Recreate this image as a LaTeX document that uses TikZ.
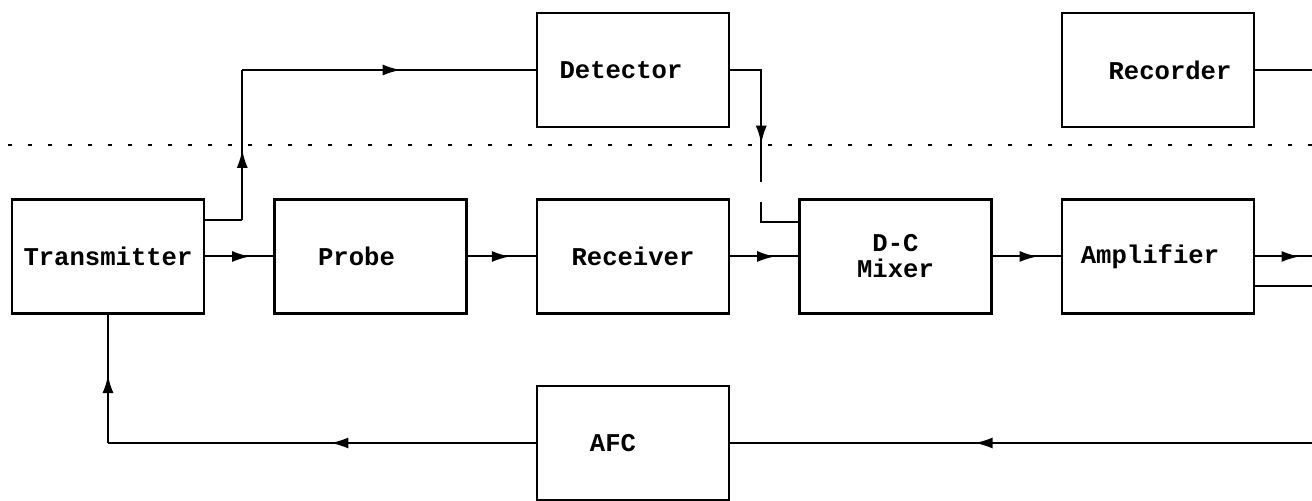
\documentclass[tikz,border=0pt]{standalone}
\usepackage{fontspec}
\setmonofont{Liberation Mono}
\usepackage{tikz}
\usetikzlibrary{arrows.meta,positioning,decorations.markings}

\begin{document}
\begin{tikzpicture}[
  node distance=35pt and 34pt,
  box/.style={draw,line width=1.25pt,minimum width=96pt,minimum height=57pt,
              inner sep=2pt,align=center,
              font=\ttfamily\bfseries\fontsize{12.8}{13}\selectfont},
  wire/.style={line width=1pt},
  flow/.style={postaction={decorate},decoration={markings,
               mark=at position #1 with {\arrow{Latex[length=9pt,width=5.5pt]}}}},
  sep/.style={line width=1.1pt,dash pattern=on 2pt off 8pt}
]
  \useasboundingbox (-54pt,-122.25pt) rectangle (602pt,128.25pt);

  \node[box] (tx) {Transmitter};
  \node[box,right=of tx] (probe) {Probe\hspace*{14pt}};
  \node[box,right=of probe] (rcv) {Receiver};
  \node[box,right=of rcv] (mix) {D-C\\Mixer};
  \node[box,right=of mix] (amp) {Amplifier\hspace*{8pt}};
  \node[box,above=of rcv] (det) {Detector\hspace*{12pt}};
  \node[box,above=of amp] (rec) {\hspace*{12pt}Recorder};
  \node[box,below=of rcv] (afc) {AFC\hspace*{20pt}};

  \coordinate (edge) at (602pt,0);
  \coordinate (sepL) at (-50pt,55.75pt);
  \coordinate (sepR) at (edge |- sepL);
  \draw[sep] (sepL) -- (sepR);

  \draw[wire,flow=0.66] (tx) -- (probe);
  \draw[wire,flow=0.62] (probe) -- (rcv);
  \draw[wire,flow=0.66] (rcv) -- (mix);
  \draw[wire,flow=0.66] (mix) -- (amp);

  \coordinate (txup) at ([yshift=18pt]tx.east);
  \path (txup) ++(18.5pt,0) coordinate (riseA);
  \coordinate (riseB) at (riseA |- det.west);
  \draw[wire] (txup) -- (riseA);
  \draw[wire,flow=0.47] (riseA) -- (riseB);
  \draw[wire,flow=0.54] (riseB) -- (det.west);

  \coordinate (mixin) at ([yshift=17pt]mix.west);
  \coordinate (detdrop) at ([xshift=15.5pt]det.east);
  \path (mixin -| detdrop) coordinate (knee) ++(0,10pt) coordinate (gapB)
        ++(0,10pt) coordinate (gapA);
  \draw[wire,flow=0.73] (det.east) -| (gapA);
  \draw[wire] (gapB) |- (mixin);

  \coordinate (ampout) at (amp.east -| edge);
  \coordinate (amplow) at ([yshift=-15pt]amp.east);
  \draw[wire,flow=0.78] (amp.east) -- (ampout);
  \draw[wire] (amplow) -- (amplow -| edge);
  \draw[wire] (rec.east) -- (rec.east -| edge);

  \coordinate (afcin) at (afc.east -| edge);
  \coordinate (fbk) at (tx.south |- afc.west);
  \draw[wire,flow=0.58] (afcin) -- (afc.east);
  \draw[wire,flow=0.48] (afc.west) -- (fbk);
  \draw[wire,flow=0.53] (fbk) -- (tx.south);
\end{tikzpicture}
\end{document}
